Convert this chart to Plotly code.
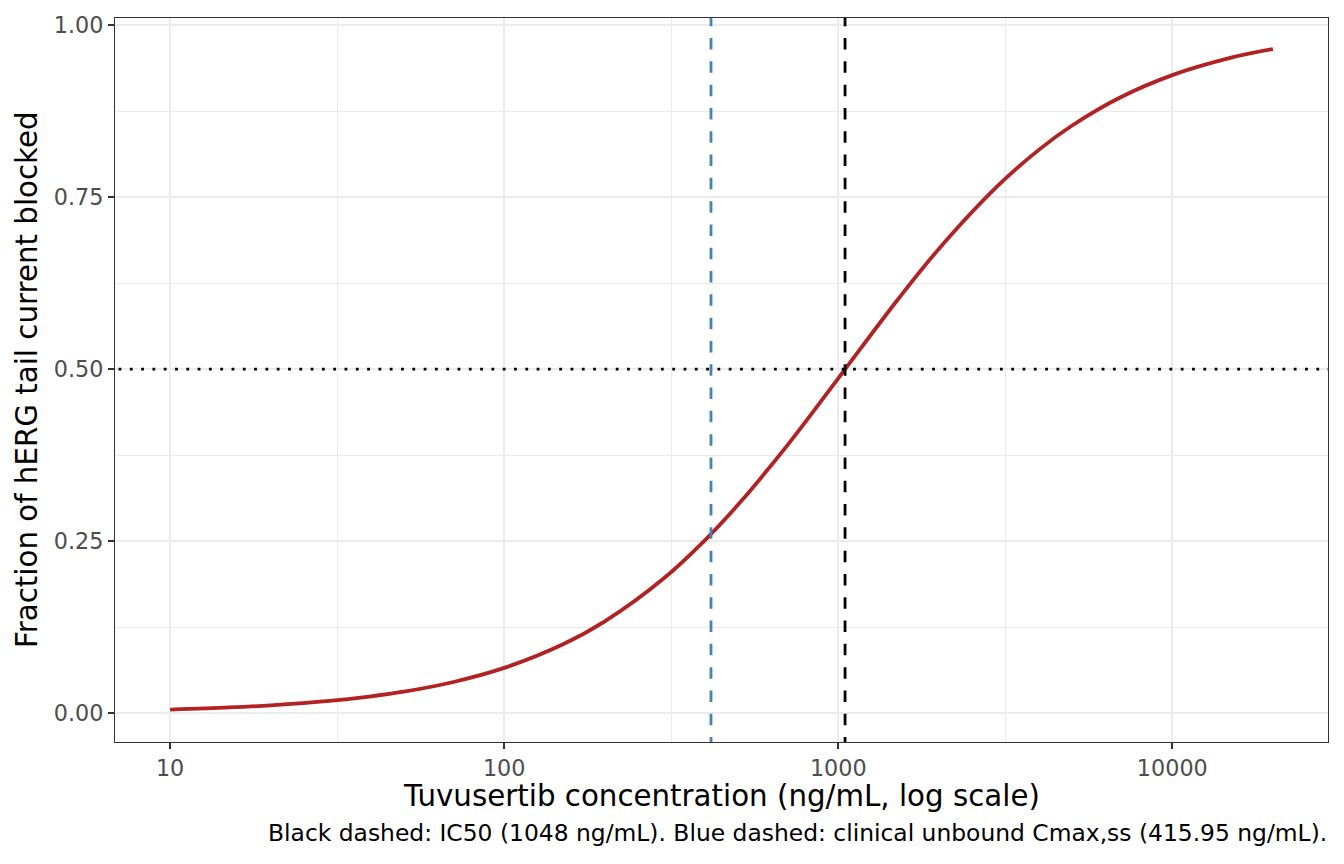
import plotly.graph_objects as go

# Concentration grid (ng/mL) and fraction blocked
conc = [10, 15, 20, 30, 40, 50, 70, 100, 150, 200, 300, 400, 500, 700,
        1000, 1500, 2000, 3000, 4000, 5000, 7000, 10000, 15000, 20000]
frac = [0.0052, 0.0082, 0.0113, 0.0177, 0.0244, 0.0311, 0.0449, 0.0657,
        0.1001, 0.1334, 0.1957, 0.2520, 0.3024, 0.3879, 0.4868, 0.5999,
        0.6749, 0.7665, 0.8196, 0.8539, 0.8953, 0.9275, 0.9529, 0.9655]

ic50 = 1048
cmax_unbound = 415.95
half_block = 0.5

x_ticks = [10, 100, 1000, 10000]
x_tick_text = ["10", "100", "1000", "10000"]
x_minor = [10 ** 1.5, 10 ** 2.5, 10 ** 3.5]
y_ticks = [0, 0.25, 0.5, 0.75, 1.0]
y_tick_text = ["0.00", "0.25", "0.50", "0.75", "1.00"]
y_minor = [0.125, 0.375, 0.625, 0.875]

FONT = "DejaVu Sans"
TICK_SIZE = 22.3
TITLE_SIZE = 29.3
CAPTION_SIZE = 23.4

W, H = 1344, 864
ML, MR, MT, MB = 115, 16, 15, 122
PW, PH = W - ML - MR, H - MT - MB

fig = go.Figure()
fig.add_trace(go.Scatter(x=conc, y=frac, mode="lines",
                         line=dict(color="#B22222", width=3.8, shape="spline"),
                         hoverinfo="skip", showlegend=False))
fig.add_trace(go.Scatter(x=[ic50, ic50], y=[-1, 2], mode="lines",
                         line=dict(color="black", width=2.8, dash="11.5px,11.8px"),
                         showlegend=False, hoverinfo="skip"))
fig.add_trace(go.Scatter(x=[cmax_unbound, cmax_unbound], y=[-1, 2], mode="lines",
                         line=dict(color="#4682B4", width=2.8, dash="11.5px,11.8px"),
                         showlegend=False, hoverinfo="skip"))
fig.add_trace(go.Scatter(x=[1, 1e6], y=[half_block, half_block], mode="lines",
                         line=dict(color="black", width=2.8, dash="2.8px,8.5px"),
                         showlegend=False, hoverinfo="skip"))

fig.update_layout(
    width=W, height=H,
    margin=dict(l=ML, r=MR, t=MT, b=MB),
    paper_bgcolor="white", plot_bgcolor="white",
    font=dict(family=FONT, color="black"),
    xaxis=dict(type="log", range=[0.835, 4.466],
               tickmode="array", tickvals=x_ticks, ticktext=x_tick_text,
               ticks="outside", ticklen=6, tickwidth=1.6, tickcolor="#333333",
               tickfont=dict(family=FONT, size=TICK_SIZE, color="#4d4d4d"),
               showgrid=True, gridcolor="#ebebeb", gridwidth=2.2,
               minor=dict(tickmode="array", tickvals=x_minor, showgrid=True,
                          gridcolor="#ebebeb", gridwidth=1.1, ticks=""),
               showline=True, linecolor="#333333", linewidth=1.3, mirror=True,
               zeroline=False),
    yaxis=dict(range=[-0.042, 1.0106],
               tickmode="array", tickvals=y_ticks, ticktext=y_tick_text,
               ticks="outside", ticklen=6, tickwidth=1.6, tickcolor="#333333",
               tickfont=dict(family=FONT, size=TICK_SIZE, color="#4d4d4d"),
               showgrid=True, gridcolor="#ebebeb", gridwidth=2.2,
               minor=dict(tickmode="array", tickvals=y_minor, showgrid=True,
                          gridcolor="#ebebeb", gridwidth=1.1, ticks=""),
               showline=True, linecolor="#333333", linewidth=1.3, mirror=True,
               zeroline=False),
    annotations=[
        dict(text="Tuvusertib concentration (ng/mL, log scale)",
             xref="paper", yref="paper", x=(721.5 - ML) / PW, y=(742 - 796) / PH,
             xanchor="center", yanchor="middle", showarrow=False,
             font=dict(family=FONT, size=TITLE_SIZE, color="black")),
        dict(text="Fraction of hERG tail current blocked",
             xref="paper", yref="paper", x=(27 - ML) / PW, y=0.5, textangle=-90,
             xanchor="center", yanchor="middle", showarrow=False,
             font=dict(family=FONT, size=TITLE_SIZE, color="black")),
        dict(text="Black dashed: IC50 (1048 ng/mL). Blue dashed: clinical unbound Cmax,ss (415.95 ng/mL).",
             xref="paper", yref="paper", x=(1329 - ML) / PW, y=(742 - 833) / PH,
             xanchor="right", yanchor="middle", showarrow=False,
             font=dict(family=FONT, size=CAPTION_SIZE, color="black")),
    ],
)

fig.write_html("out.html", config={"displayModeBar": False},
               post_script="document.body.style.margin='0';")
